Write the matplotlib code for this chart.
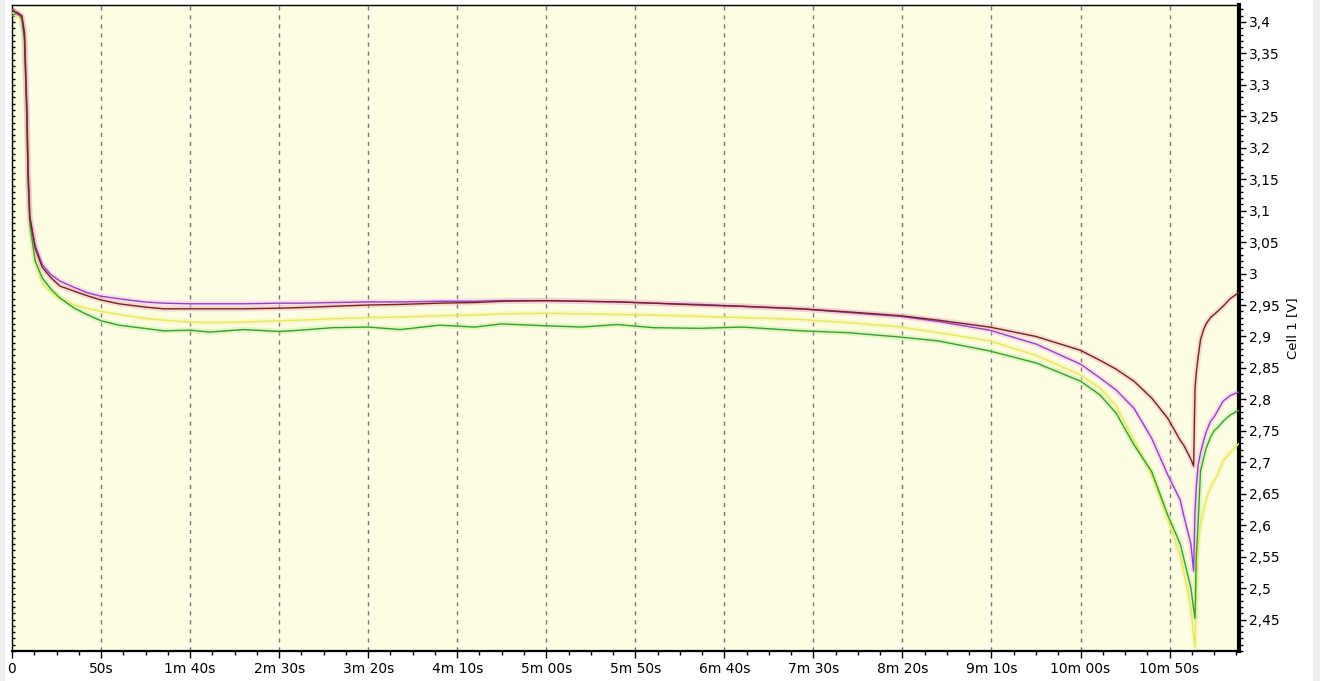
import matplotlib
matplotlib.use('Agg')
import matplotlib.pyplot as plt
from matplotlib.ticker import FixedLocator, MultipleLocator, NullFormatter, FixedFormatter
from matplotlib.patches import Rectangle

# ---- data (time in seconds, voltage in V) ----
time_s = [0, 3, 5.5, 7, 8.4, 9, 10, 13, 17, 22, 27, 35, 42, 50, 60, 74, 85, 100, 111, 130,
          150, 162, 180, 200, 218, 240, 260, 275, 300, 320, 340, 360, 386, 410, 443, 470,
          499, 520, 549, 575, 600, 611, 620, 630, 640, 649, 656, 658, 662, 663.5, 664.3,
          665, 666, 667.4, 669, 670.5, 673, 675, 677, 680, 684, 689]

cell_red = [3.418, 3.415, 3.41, 3.38, 3.25, 3.16, 3.09, 3.04, 3.01, 2.993, 2.98, 2.972, 2.965,
            2.958, 2.952, 2.947, 2.944, 2.944, 2.944, 2.944, 2.945, 2.946, 2.948, 2.95, 2.951,
            2.953, 2.954, 2.956, 2.957, 2.956, 2.955, 2.953, 2.95, 2.948, 2.944, 2.939, 2.933,
            2.926, 2.915, 2.9, 2.878, 2.862, 2.848, 2.829, 2.802, 2.77, 2.735, 2.727, 2.705,
            2.694, 2.818, 2.842, 2.866, 2.895, 2.91, 2.92, 2.93, 2.935, 2.94, 2.948, 2.96, 2.97]

cell_purple = [3.42, 3.412, 3.41, 3.385, 3.26, 3.17, 3.09, 3.045, 3.014, 2.998, 2.988, 2.978,
               2.97, 2.964, 2.96, 2.955, 2.953, 2.952, 2.952, 2.952, 2.953, 2.953, 2.954, 2.955,
               2.955, 2.956, 2.956, 2.957, 2.957, 2.956, 2.955, 2.953, 2.951, 2.948, 2.944,
               2.938, 2.932, 2.924, 2.91, 2.888, 2.856, 2.834, 2.815, 2.786, 2.738, 2.68, 2.64,
               2.615, 2.57, 2.527, 2.622, 2.66, 2.695, 2.715, 2.733, 2.748, 2.765, 2.772, 2.782,
               2.797, 2.806, 2.812]

cell_yellow = [3.415, 3.41, 3.405, 3.38, 3.25, 3.16, 3.08, 3.02, 2.985, 2.97, 2.96, 2.95, 2.945,
               2.94, 2.935, 2.929, 2.926, 2.923, 2.922, 2.923, 2.925, 2.926, 2.928, 2.93, 2.931,
               2.933, 2.934, 2.936, 2.937, 2.936, 2.935, 2.934, 2.932, 2.93, 2.927, 2.922,
               2.915, 2.906, 2.893, 2.87, 2.839, 2.818, 2.79, 2.735, 2.68, 2.611, 2.55, 2.525,
               2.465, 2.425, 2.405, 2.5, 2.568, 2.6, 2.622, 2.64, 2.66, 2.67, 2.68, 2.702,
               2.715, 2.73]

cell_green = [3.41, 3.415, 3.405, 3.37, 3.24, 3.15, 3.08, 3.02, 2.993, 2.975, 2.961, 2.945,
              2.935, 2.925, 2.918, 2.913, 2.909, 2.91, 2.907, 2.911, 2.908, 2.91, 2.914, 2.915,
              2.911, 2.918, 2.915, 2.92, 2.917, 2.915, 2.919, 2.914, 2.913, 2.915, 2.909,
              2.906, 2.899, 2.893, 2.877, 2.858, 2.829, 2.807, 2.778, 2.728, 2.685, 2.616,
              2.57, 2.547, 2.5, 2.467, 2.452, 2.55, 2.6, 2.686, 2.705, 2.722, 2.74, 2.75,
              2.755, 2.765, 2.775, 2.783]

x_tick_values = [0, 50, 100, 150, 200, 250, 300, 350, 400, 450, 500, 550, 600, 650]
x_tick_labels = ['0', '50s', '1m 40s', '2m 30s', '3m 20s', '4m 10s', '5m 00s', '5m 50s',
                 '6m 40s', '7m 30s', '8m 20s', '9m 10s', '10m 00s', '10m 50s']
y_tick_values = [2.45, 2.5, 2.55, 2.6, 2.65, 2.7, 2.75, 2.8, 2.85, 2.9, 2.95, 3.0, 3.05,
                 3.1, 3.15, 3.2, 3.25, 3.3, 3.35, 3.4]
y_tick_labels = ['2,45', '2,5', '2,55', '2,6', '2,65', '2,7', '2,75', '2,8', '2,85', '2,9',
                 '2,95', '3', '3,05', '3,1', '3,15', '3,2', '3,25', '3,3', '3,35', '3,4']
y_label = 'Cell 1 [V]'

W, H = 1320, 681
fig = plt.figure(figsize=(W / 100, H / 100), dpi=100)
fig.patch.set_facecolor('white')
fig.patches.append(Rectangle((1313 / W, 0), 7 / W, 1, transform=fig.transFigure,
                             facecolor='#efefef', edgecolor='none', zorder=0))
fig.patches.append(Rectangle((0, 0), 5 / W, 1, transform=fig.transFigure,
                             facecolor='#efefef', edgecolor='none', zorder=0))

ax = fig.add_axes([12 / W, 30 / H, 1227 / W, 646 / H])
ax.set_facecolor('#fdfde4')
ax.set_xlim(0, 689)
ax.set_ylim(2.40, 3.427)

# grid
for xv in x_tick_values[1:]:
    ax.axvline(xv, color='#777777', lw=1.0, linestyle=(0, (3, 3.5)), zorder=1)

series = [
    (cell_yellow, '#e8e85a', '#f6f4a8'),
    (cell_green, '#3a9e36', '#c0ee98'),
    (cell_purple, '#9640c8', '#f2c0ea'),
    (cell_red, '#7a2020', '#e8b8b8'),
]
for vals, col, halo in series:
    ax.plot(time_s, vals, color=halo, lw=4, alpha=0.45, zorder=2, solid_capstyle='butt')
for vals, col, halo in series:
    ax.plot(time_s, vals, color=col, lw=1.0, zorder=3)

# spines
for s in ['top', 'left']:
    ax.spines[s].set_linewidth(1.0)
ax.spines['bottom'].set_linewidth(1.6)
ax.spines['right'].set_linewidth(3.0)
for s in ax.spines.values():
    s.set_color('black')

# x axis ticks
ax.xaxis.set_major_locator(FixedLocator(x_tick_values))
ax.xaxis.set_major_formatter(FixedFormatter(x_tick_labels))
ax.xaxis.set_minor_locator(MultipleLocator(12.5))
ax.tick_params(axis='x', which='major', direction='out', length=5, width=1,
               labelsize=10, pad=3, colors='black')
ax.tick_params(axis='x', which='minor', direction='out', length=3, width=1)

# left inner ticks (no labels)
ax.yaxis.set_major_locator(FixedLocator(y_tick_values))
ax.yaxis.set_minor_locator(MultipleLocator(0.01))
ax.yaxis.set_major_formatter(NullFormatter())
ax.tick_params(axis='y', which='both', direction='in', left=True, right=False,
               labelleft=False, length=2, width=1)

# right axis with labels
ax2 = ax.twinx()
ax2.set_ylim(ax.get_ylim())
ax2.yaxis.set_major_locator(FixedLocator(y_tick_values))
ax2.yaxis.set_major_formatter(FixedFormatter(y_tick_labels))
ax2.yaxis.set_minor_locator(MultipleLocator(0.01))
ax2.tick_params(axis='y', which='major', direction='out', length=5, width=1,
                labelsize=10, pad=2)
ax2.tick_params(axis='y', which='minor', direction='out', length=3, width=1)
for s in ax2.spines.values():
    s.set_visible(False)
ax2.set_ylabel(y_label, fontsize=9.5, labelpad=5)

fig.savefig('out.png', dpi=100, facecolor=fig.get_facecolor())
